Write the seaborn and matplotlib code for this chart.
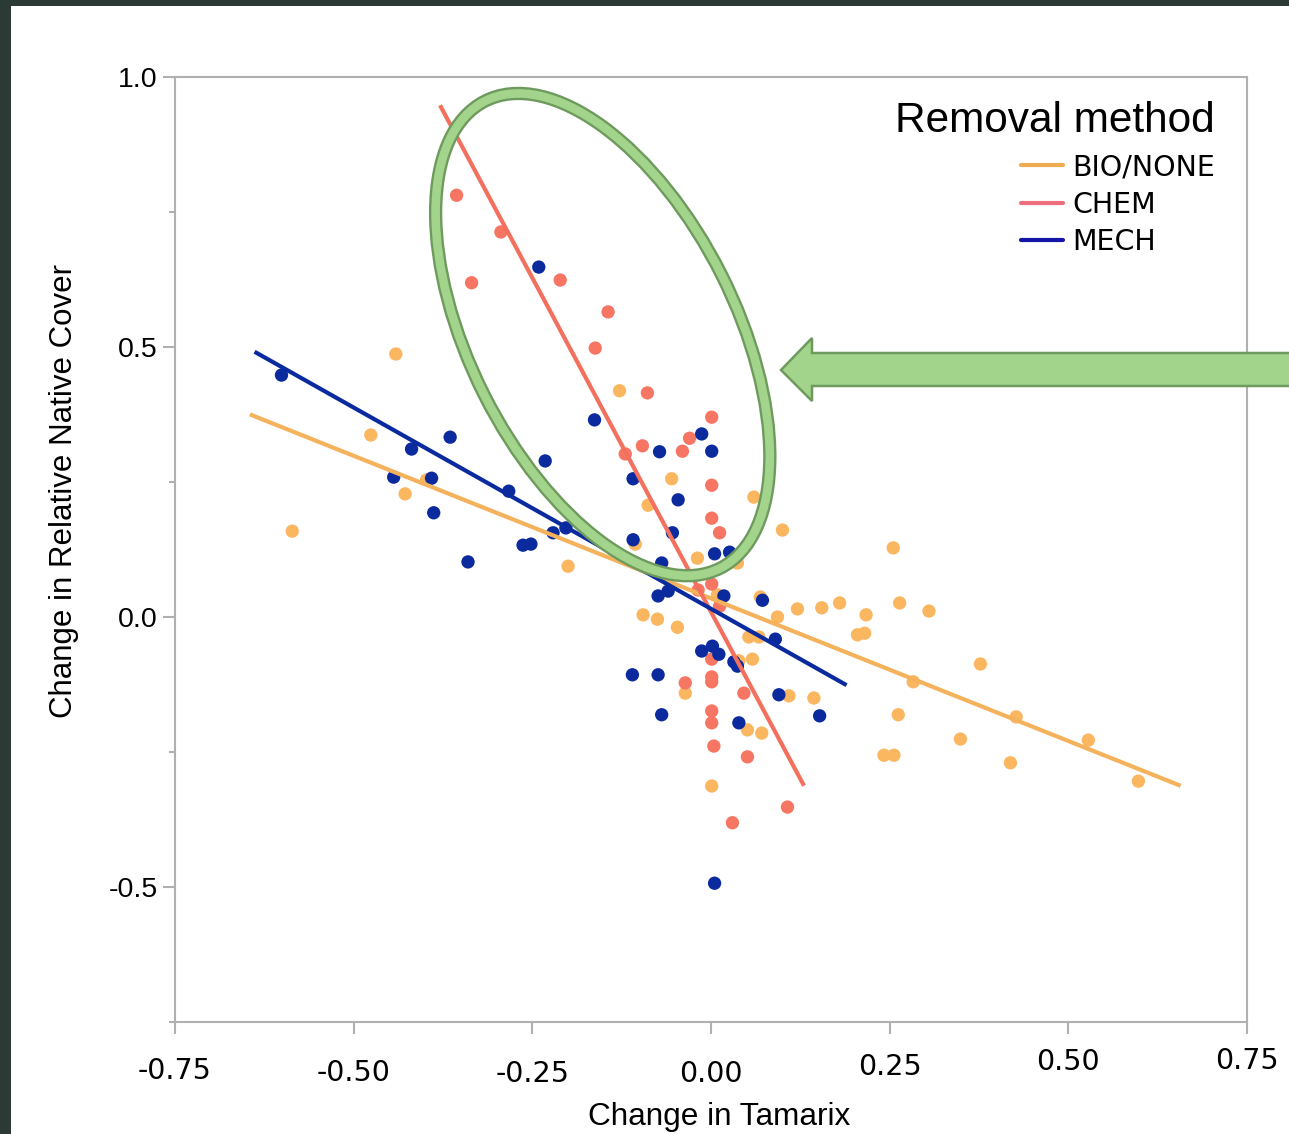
import numpy as np
import pandas as pd
import matplotlib
matplotlib.use("Agg")
import matplotlib.pyplot as plt
import seaborn as sns
from matplotlib.patches import Ellipse, Polygon, Rectangle
from matplotlib.lines import Line2D
from matplotlib.transforms import IdentityTransform, ScaledTranslation

# ---------------- data ----------------
methods = ["BIO/NONE", "CHEM", "MECH"]

bio_x = [-0.441, -0.476, -0.428, -0.586, -0.398, -0.200, -0.128, -0.055, -0.088, 0.060,
         0.100, -0.019, -0.106, 0.037, -0.095, -0.075, -0.047, 0.069, 0.093, 0.121,
         0.155, 0.180, 0.053, 0.067, 0.058, 0.039, -0.036, 0.109, 0.144, 0.051,
         0.071, 0.001, 0.255, 0.217, 0.264, 0.305, 0.205, 0.215, 0.377, 0.283,
         0.262, 0.349, 0.242, 0.256, 0.427, 0.528, 0.419, 0.598, 0.009]
bio_y = [0.487, 0.337, 0.228, 0.159, 0.254, 0.094, 0.419, 0.256, 0.207, 0.222,
         0.161, 0.109, 0.135, 0.100, 0.004, -0.004, -0.019, 0.037, 0.000, 0.015,
         0.017, 0.026, -0.037, -0.037, -0.078, -0.081, -0.141, -0.146, -0.150, -0.209,
         -0.215, -0.313, 0.128, 0.004, 0.026, 0.011, -0.033, -0.030, -0.087, -0.120,
         -0.181, -0.226, -0.256, -0.256, -0.185, -0.228, -0.270, -0.304, 0.041]

chem_x = [-0.356, -0.294, -0.335, -0.211, -0.144, -0.162, -0.089, 0.001, -0.030, -0.040,
          -0.096, -0.120, 0.001, 0.001, 0.012, 0.001, -0.018, 0.012, 0.001, 0.001,
          0.001, -0.036, 0.046, 0.001, 0.001, 0.004, 0.051, 0.107, 0.030]
chem_y = [0.781, 0.713, 0.619, 0.624, 0.565, 0.498, 0.415, 0.370, 0.331, 0.307,
          0.317, 0.302, 0.244, 0.183, 0.156, 0.061, 0.050, 0.020, -0.078, -0.111,
          -0.120, -0.122, -0.141, -0.174, -0.196, -0.239, -0.259, -0.352, -0.381]

mech_x = [-0.601, -0.241, -0.365, -0.419, -0.444, -0.391, -0.283, -0.388, -0.232, -0.163,
          -0.221, -0.263, -0.252, -0.340, -0.013, -0.072, 0.001, -0.109, -0.046, -0.054,
          -0.109, 0.005, 0.026, -0.069, -0.074, -0.060, 0.018, 0.072, 0.090, -0.013,
          0.002, 0.011, 0.032, 0.037, -0.110, -0.074, -0.069, 0.039, 0.095, 0.152,
          0.005, -0.203]
mech_y = [0.448, 0.648, 0.333, 0.311, 0.259, 0.257, 0.233, 0.193, 0.289, 0.365,
          0.156, 0.133, 0.135, 0.102, 0.339, 0.306, 0.307, 0.256, 0.217, 0.156,
          0.143, 0.117, 0.120, 0.100, 0.039, 0.048, 0.039, 0.031, -0.041, -0.063,
          -0.054, -0.069, -0.083, -0.091, -0.107, -0.107, -0.181, -0.196, -0.144, -0.183,
          -0.493, 0.165]

x_ticks = [-0.75, -0.50, -0.25, 0.00, 0.25, 0.50, 0.75]
x_tick_labels = ["-0.75", "-0.50", "-0.25", "0.00", "0.25", "0.50", "0.75"]
y_ticks = [-0.5, 0.0, 0.5, 1.0]
y_tick_labels = ["-0.5", "0.0", "0.5", "1.0"]
y_minor_ticks = [-0.75, -0.25, 0.25, 0.75]

# ---------------- styles ----------------
dot_colors = {"BIO/NONE": "#FBB660", "CHEM": "#F67563", "MECH": "#0A2A9E"}
line_colors = {"BIO/NONE": "#F5B25C", "CHEM": "#F2705D", "MECH": "#0A2A9E"}
legend_colors = {"BIO/NONE": "#EEAC52", "CHEM": "#EF6E7E", "MECH": "#1414A8"}
GREEN_FILL = "#A2D58B"
GREEN_EDGE = "#6F9A5E"
SPINE = "#B0B0B0"
FIT_PAD = 0.05                      # fit lines run 5 % past the data on each side
XLABEL_SHIFT_PX = [3, 1, 0, 0, 7, 12, 13]   # slight upward drift of x tick labels

df = pd.concat([
    pd.DataFrame({"x": bio_x, "y": bio_y, "method": "BIO/NONE"}),
    pd.DataFrame({"x": chem_x, "y": chem_y, "method": "CHEM"}),
    pd.DataFrame({"x": mech_x, "y": mech_y, "method": "MECH"}),
], ignore_index=True)

sns.set_theme(style="white")
plt.rcParams["font.family"] = ["Liberation Sans", "DejaVu Sans"]
plt.rcParams.update({"axes.unicode_minus": False, "text.color": "black",
                     "axes.labelcolor": "black"})

W, H = 1289, 1134
fig = plt.figure(figsize=(W / 100, H / 100), dpi=100)
fig.patch.set_facecolor("#2B3A34")
fig.add_artist(Rectangle((11 / W, 0), 1, (H - 6) / H, transform=fig.transFigure,
                         facecolor="white", edgecolor="none", zorder=-10))

ax = fig.add_axes([175 / W, (H - 1022) / H, (1247 - 175) / W, (1022 - 77) / H])
ax.set_facecolor("white")

sns.scatterplot(data=df, x="x", y="y", hue="method", hue_order=methods,
                palette=dot_colors, s=92, linewidth=0, legend=False, ax=ax, zorder=2)

for m in methods:
    sub = df[df["method"] == m]
    lo, hi = sub["x"].min(), sub["x"].max()
    pad = FIT_PAD * (hi - lo)
    ax.set_xlim(lo - pad, hi + pad)
    sns.regplot(data=sub, x="x", y="y", scatter=False, ci=None, truncate=False,
                color=line_colors[m], line_kws=dict(lw=3, zorder=3, solid_capstyle="butt"), ax=ax)

ax.set_xlim(-0.75, 0.75)
ax.set_ylim(-0.75, 1.0)

ax.set_xticks(x_ticks)
ax.set_xticklabels(x_tick_labels)
ax.set_yticks(y_ticks)
ax.set_yticklabels(y_tick_labels)
ax.set_yticks(y_minor_ticks, minor=True)

ax.tick_params(axis="both", which="both", bottom=True, left=True, direction="out",
               color=SPINE, width=1.5, labelcolor="black")
ax.tick_params(axis="both", which="major", length=8.5)
ax.tick_params(axis="y", which="minor", length=4)
ax.tick_params(axis="x", which="major", labelsize=20.5, pad=19)
ax.tick_params(axis="y", which="major", labelsize=20.5, pad=4)
for lbl, dy in zip(ax.get_xticklabels(), XLABEL_SHIFT_PX):
    lbl.set_fontfamily(["DejaVu Sans"])
    lbl.set_transform(lbl.get_transform() + ScaledTranslation(0, dy / 100, fig.dpi_scale_trans))

for sp in ax.spines.values():
    sp.set_visible(True)
    sp.set_color(SPINE)
    sp.set_linewidth(1.5)

ax.set_xlabel("Change in Tamarix", fontsize=22.7, va="center", color="black")
ax.xaxis.set_label_coords(0.508, -0.1)
ax.set_ylabel("Change in Relative Native Cover", fontsize=22.5, va="center", color="black")
ax.yaxis.set_label_coords(-0.104, 0.562)

handles = [Line2D([], [], color=legend_colors[m], lw=3) for m in methods]
leg = ax.legend(handles, methods, title="Removal method", loc="upper right",
                bbox_to_anchor=(0.970, 0.975), frameon=False, alignment="right",
                prop={"family": "DejaVu Sans", "size": 20.5},
                title_fontproperties={"family": "Liberation Sans", "size": 30.5},
                handlelength=1.45, handletextpad=0.33, labelspacing=0.33,
                borderpad=0, borderaxespad=0)
leg.get_title().set_color("black")
for t in leg.get_texts():
    t.set_color("black")
leg._legend_box.sep = 9

# ---------------- annotations ----------------
cx, cy = ax.transData.transform((-0.1515, 0.523))
for color, lw in [(GREEN_EDGE, 9.6), (GREEN_FILL, 6.2)]:
    fig.add_artist(Ellipse((cx, cy), 523, 266, angle=-63.3, transform=IdentityTransform(),
                           fill=False, edgecolor=color, lw=lw, zorder=10))

ay = H - 370
arrow_pts = [(781, ay), (812, ay + 32), (812, ay + 17), (W + 10, ay + 17),
             (W + 10, ay - 16), (812, ay - 16), (812, ay - 31)]
fig.add_artist(Polygon(arrow_pts, closed=True, transform=IdentityTransform(),
                       facecolor=GREEN_FILL, edgecolor=GREEN_EDGE, lw=1.8, zorder=11))

fig.savefig("out.png", dpi=100)
